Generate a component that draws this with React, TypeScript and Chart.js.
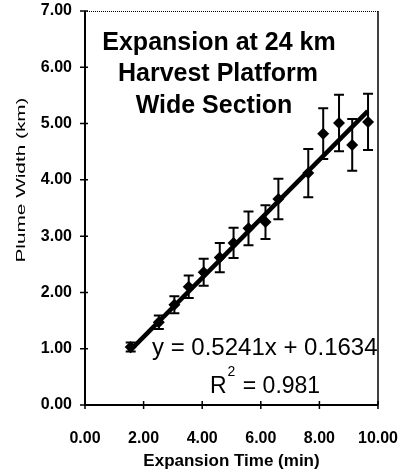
import React, { useEffect, useRef } from "react";
import { Chart, registerables } from "chart.js";

Chart.register(...registerables);

// Data
const timeMin = [1.56, 2.52, 3.05, 3.54, 4.05, 4.6, 5.07, 5.58, 6.16, 6.6, 7.62, 8.13, 8.67, 9.12, 9.66];
const widthKm = [1.03, 1.47, 1.78, 2.1, 2.36, 2.62, 2.88, 3.14, 3.25, 3.66, 4.12, 4.82, 5.01, 4.62, 5.03];
const errKm = [0.08, 0.12, 0.15, 0.2, 0.24, 0.26, 0.27, 0.3, 0.3, 0.36, 0.43, 0.45, 0.5, 0.46, 0.5];

const trendSlope = 0.5241;
const trendIntercept = 0.1634;
const trendX = [1.5, 9.65];

const titleLines = ["Expansion at 24 km", "Harvest Platform", "Wide Section"];
const equationText = "y = 0.5241x + 0.1634";
const r2Text = "= 0.981";
const xTitle = "Expansion Time (min)";
const yTitle = "Plume Width (km)";
const xTicks = [0, 2, 4, 6, 8, 10];
const yTicks = [0, 1, 2, 3, 4, 5, 6, 7];

const FONT = "'Liberation Sans', Arial, Helvetica, sans-serif";

const decorPlugin = {
  id: "decor",
  beforeDatasetsDraw(chart: any) {
    const ctx = chart.ctx;
    const xs = chart.scales.x;
    const ys = chart.scales.y;
    ctx.save();
    ctx.strokeStyle = "#000";
    ctx.lineWidth = 2;
    for (let i = 0; i < timeMin.length; i++) {
      const px = xs.getPixelForValue(timeMin[i]);
      const top = ys.getPixelForValue(widthKm[i] + errKm[i]);
      const bot = ys.getPixelForValue(widthKm[i] - errKm[i]);
      ctx.beginPath();
      ctx.moveTo(px, top);
      ctx.lineTo(px, bot);
      ctx.moveTo(px - 5, top);
      ctx.lineTo(px + 5, top);
      ctx.moveTo(px - 5, bot);
      ctx.lineTo(px + 5, bot);
      ctx.stroke();
    }
    ctx.restore();
  },
  afterDraw(chart: any) {
    const ctx = chart.ctx;
    const ca = chart.chartArea;
    const xs = chart.scales.x;
    const ys = chart.scales.y;
    ctx.save();
    ctx.strokeStyle = "#000";
    ctx.lineWidth = 1;
    ctx.setLineDash([1, 1]);
    ctx.beginPath();
    ctx.moveTo(ca.left, ca.top + 0.5);
    ctx.lineTo(ca.right, ca.top + 0.5);
    ctx.stroke();
    ctx.setLineDash([]);
    ctx.lineWidth = 1.5;
    ctx.beginPath();
    ctx.moveTo(ca.right, ca.top);
    ctx.lineTo(ca.right, ca.bottom);
    ctx.stroke();
    ctx.lineWidth = 2;
    ctx.beginPath();
    ctx.moveTo(ca.left, ca.top);
    ctx.lineTo(ca.left, ca.bottom);
    ctx.lineTo(ca.right, ca.bottom);
    ctx.stroke();
    ctx.lineWidth = 1.5;
    ctx.beginPath();
    for (const v of yTicks) {
      const py = ys.getPixelForValue(v);
      ctx.moveTo(ca.left - 5, py);
      ctx.lineTo(ca.left + 3, py);
    }
    for (const v of xTicks) {
      const px = xs.getPixelForValue(v);
      ctx.moveTo(px, ca.bottom - 4);
      ctx.lineTo(px, ca.bottom + 4);
    }
    ctx.stroke();

    ctx.fillStyle = "#000";
    ctx.textAlign = "center";
    ctx.textBaseline = "alphabetic";
    ctx.font = `bold 25px ${FONT}`;
    ctx.fillText(titleLines[0], 219, 50);
    ctx.fillText(titleLines[1], 218, 81);
    ctx.fillText(titleLines[2], 214, 113);

    ctx.textAlign = "left";
    ctx.font = `24px ${FONT}`;
    ctx.fillText(equationText, 152, 355);
    ctx.font = `23px ${FONT}`;
    ctx.fillText("R", 210, 393);
    const rw = ctx.measureText("R").width;
    ctx.font = `14px ${FONT}`;
    ctx.fillText("2", 210 + rw + 1, 376);
    const sw = ctx.measureText("2").width;
    ctx.font = `23px ${FONT}`;
    ctx.fillText(" " + r2Text, 210 + rw + sw + 2, 393);

    ctx.textAlign = "center";
    ctx.font = `bold 17px ${FONT}`;
    ctx.fillText(xTitle, (ca.left + ca.right) / 2, 466);

    ctx.save();
    ctx.translate(22, 180);
    ctx.rotate(-Math.PI / 2);
    ctx.font = `12px ${FONT}`;
    const w = ctx.measureText(yTitle).width;
    ctx.scale(165 / w, 1);
    ctx.textBaseline = "middle";
    ctx.fillText(yTitle, 0, 0);
    ctx.restore();

    ctx.restore();
  },
};

export default function App() {
  const ref = useRef<HTMLCanvasElement | null>(null);
  useEffect(() => {
    document.body.style.margin = "0";
    const canvas = ref.current;
    if (!canvas) return;
    const points = timeMin.map((x, i) => ({ x, y: widthKm[i] }));
    const trend = trendX.map((x) => ({ x, y: trendSlope * x + trendIntercept }));
    const chart = new Chart(canvas, {
      type: "scatter",
      data: {
        datasets: [
          {
            data: trend,
            showLine: true,
            borderColor: "#000",
            borderWidth: 4.5,
            pointRadius: 0,
            order: 1,
          },
          {
            data: points,
            pointStyle: "rectRot",
            pointRadius: 6,
            backgroundColor: "#000",
            borderColor: "#000",
            borderWidth: 0,
            order: 0,
          },
        ],
      },
      options: {
        responsive: false,
        animation: false,
        devicePixelRatio: 1,
        layout: { padding: { top: 11, right: 26, left: 0, bottom: 0 } },
        plugins: { legend: { display: false }, tooltip: { enabled: false } },
        scales: {
          x: {
            type: "linear",
            min: 0,
            max: 10,
            grid: { display: false, drawTicks: false },
            border: { display: false },
            afterFit: (s: any) => {
              s.height = 68;
              s.paddingLeft = 0;
              s.paddingRight = 0;
            },
            ticks: {
              stepSize: 2,
              padding: 24,
              color: "#000",
              font: { family: FONT, size: 16, weight: "bold" },
              maxRotation: 0,
              callback: (v: any) => Number(v).toFixed(2),
            },
          },
          y: {
            type: "linear",
            min: 0,
            max: 7,
            grid: { display: false, drawTicks: false },
            border: { display: false },
            afterFit: (s: any) => {
              s.width = 85;
              s.paddingTop = 0;
              s.paddingBottom = 0;
            },
            ticks: {
              stepSize: 1,
              padding: 13,
              color: "#000",
              font: { family: FONT, size: 16, weight: "bold" },
              callback: (v: any) => Number(v).toFixed(2),
            },
          },
        },
      },
      plugins: [decorPlugin],
    });
    return () => chart.destroy();
  }, []);
  return (
    <div style={{ width: 404, height: 473, background: "#fff" }}>
      <canvas ref={ref} width={404} height={473} style={{ display: "block", width: 404, height: 473 }} />
    </div>
  );
}
